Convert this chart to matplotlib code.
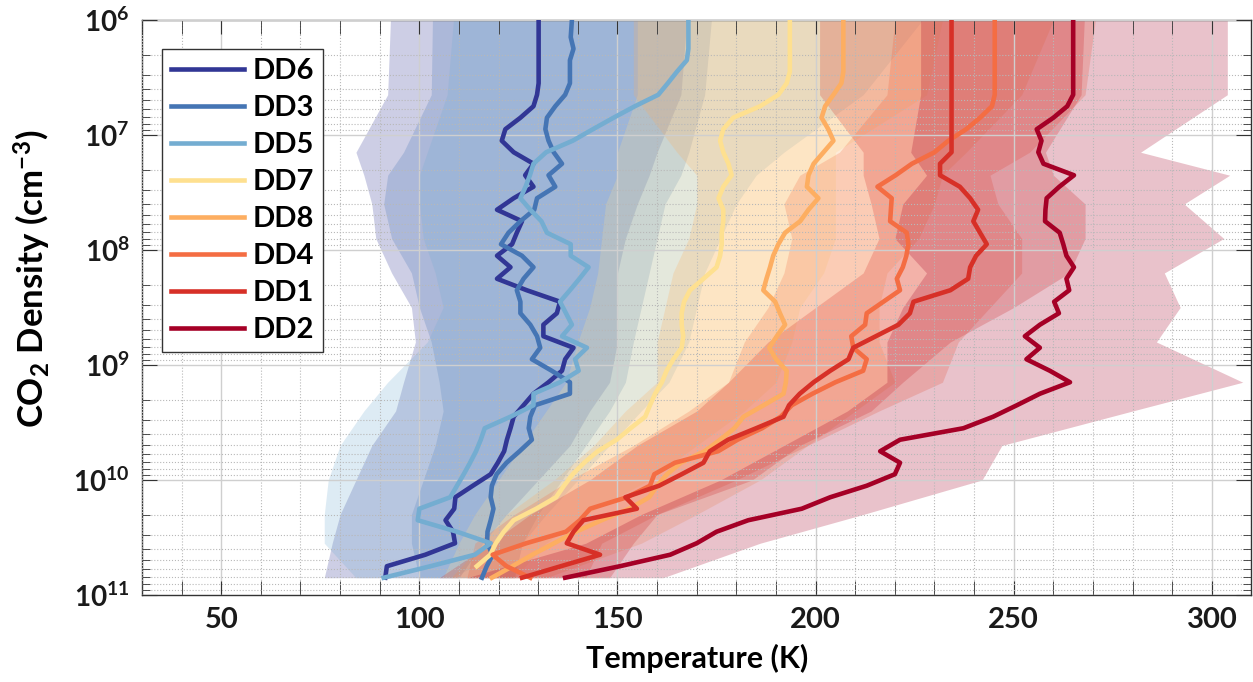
import numpy as np
import matplotlib
matplotlib.use('Agg')
import matplotlib.pyplot as plt
from matplotlib.ticker import MultipleLocator, LogLocator, NullFormatter, FuncFormatter

plt.rcParams['font.family'] = ['Lato', 'DejaVu Sans']
plt.rcParams['font.weight'] = 'bold'
plt.rcParams['mathtext.fontset'] = 'custom'
plt.rcParams['mathtext.rm'] = 'Lato:bold'
plt.rcParams['mathtext.bf'] = 'Lato:bold'
plt.rcParams['mathtext.it'] = 'Lato:bold:italic'
plt.rcParams['mathtext.default'] = 'bf'

# log10 of CO2 density (cm^-3) for the profile lines
log_n = [6.0, 6.15, 6.25, 6.35, 6.45, 6.55, 6.65, 6.75, 6.85, 6.95,
         7.05, 7.15, 7.25, 7.35, 7.45, 7.55, 7.65, 7.75, 7.85, 7.95,
         8.05, 8.15, 8.25, 8.35, 8.45, 8.55, 8.65, 8.75, 8.85, 8.95,
         9.05, 9.15, 9.25, 9.35, 9.45, 9.55, 9.65, 9.75, 9.85, 9.95,
         10.05, 10.15, 10.25, 10.35, 10.45, 10.55, 10.65, 10.75, 10.85]

# temperature profiles (K)
dd6 = [130.1, 130.1, 130.1, 130.1, 130.1, 130.1, 129.7, 128.8, 125.5, 121.7,
       120.8, 123.8, 128.8, 126.7, 128.8, 123.8, 119.6, 125.9, 124.6, 123.4,
       119.6, 123.0, 119.6, 127.1, 135.5, 134.7, 131.3, 131.3, 138.9, 136.8,
       136.0, 132.6, 128.8, 126.3, 123.8, 123.0, 122.1, 121.4, 119.8, 118.0,
       113.5, 109.1, 108.8, 106.6, 108.5, 109.0, 101.5, 91.8, 91.4]
dd3 = [138.5, 138.2, 138.9, 138.0, 138.0, 138.0, 136.8, 134.3, 132.2, 131.8,
       132.6, 133.9, 136.0, 132.6, 134.3, 129.7, 129.0, 125.5, 122.5, 120.6,
       125.9, 128.8, 126.3, 124.6, 125.5, 125.5, 128.0, 129.7, 130.5, 128.4,
       133.4, 138.0, 138.0, 129.2, 128.0, 127.6, 128.4, 125.3, 122.0, 119.5,
       118.3, 118.0, 118.7, 118.0, 117.2, 117.1, 118.5, 117.0, 115.8]
dd5 = [167.9, 167.9, 167.9, 167.5, 165.0, 162.7, 160.3, 154.4, 149.0, 143.8,
       138.7, 132.0, 128.8, 127.9, 126.8, 125.5, 128.0, 130.8, 132.2, 138.2,
       138.2, 142.7, 140.4, 138.0, 135.5, 137.0, 138.5, 136.0, 142.3, 139.3,
       140.2, 135.5, 128.8, 128.8, 123.0, 116.5, 115.5, 114.3, 112.8, 111.2,
       109.5, 107.8, 100.0, 99.6, 109.5, 118.0, 114.0, 102.8, 91.0]
dd7 = [193.5, 193.5, 193.5, 193.5, 193.5, 192.7, 190.6, 186.0, 179.2, 176.7,
       175.9, 176.7, 178.0, 178.8, 176.7, 175.5, 176.7, 176.7, 176.3, 176.3,
       175.9, 175.0, 171.7, 168.3, 166.8, 166.2, 166.2, 166.6, 166.2, 164.1,
       162.4, 161.2, 159.5, 158.2, 157.0, 153.3, 149.8, 145.0, 141.6, 138.7,
       136.5, 134.5, 129.5, 123.8, 121.3, 119.3, 117.9, 114.5, np.nan]
dd8 = [207.0, 207.0, 207.0, 207.0, 207.0, 206.5, 204.5, 202.4, 201.5, 203.2,
       204.5, 202.0, 199.5, 198.2, 197.8, 200.7, 198.2, 196.1, 192.3, 190.6,
       189.3, 188.5, 187.6, 186.8, 189.8, 191.0, 192.3, 190.2, 188.3, 190.0,
       192.7, 192.5, 191.9, 186.9, 181.8, 179.5, 175.9, 172.0, 166.0, 162.5,
       160.0, 158.0, 153.0, 146.0, 139.5, 134.0, 128.5, 123.5, 118.3]
dd4 = [245.2, 245.2, 245.2, 245.2, 245.2, 245.2, 245.2, 244.5, 241.5, 238.0,
       233.5, 230.0, 224.3, 220.2, 215.6, 219.2, 219.0, 218.8, 223.0, 223.4,
       222.9, 222.0, 220.5, 221.3, 217.1, 212.9, 212.5, 209.0, 209.5, 212.9,
       212.0, 205.0, 199.2, 194.0, 191.2, 186.5, 180.3, 175.4, 164.5, 159.3,
       158.2, 152.4, 143.1, 140.5, 137.0, 127.0, 118.5, 122.0, 128.0]
dd1 = [234.3, 234.3, 234.3, 234.3, 234.3, 234.3, 234.3, 234.3, 234.3, 234.3,
       234.3, 234.3, 231.4, 231.4, 236.4, 239.0, 241.0, 239.8, 241.5, 243.2,
       240.5, 239.0, 238.5, 234.0, 224.7, 223.8, 220.9, 215.2, 209.5, 208.3,
       203.7, 199.5, 196.0, 193.3, 191.9, 185.0, 177.9, 173.3, 171.7, 166.2,
       160.5, 152.0, 154.9, 141.4, 138.9, 137.2, 145.6, 135.7, 125.9]
dd2 = [265.0, 265.0, 265.0, 265.0, 265.0, 265.0, 265.0, 263.5, 260.0, 255.8,
       257.0, 256.2, 257.5, 265.2, 261.5, 258.3, 258.0, 257.9, 261.6, 262.5,
       263.3, 265.2, 263.3, 264.0, 260.2, 261.4, 256.6, 252.8, 256.6, 253.2,
       259.1, 264.2, 256.6, 250.8, 244.8, 237.3, 221.3, 216.3, 221.3, 220.0,
       212.9, 203.7, 196.5, 183.0, 175.0, 170.0, 163.3, 150.6, 136.8]

# spread envelopes, on a coarser density grid
band_n = [6.0, 6.65, 7.15, 7.35, 7.6, 7.9, 8.2, 8.5, 8.8, 9.15,
          9.4, 9.7, 10.0, 10.3, 10.55, 10.85]
dd6_lo = [92.7, 92.0, 84.0, 86.0, 88.0, 89.0, 93.0, 98.0, 99.0, 96.0, 94.0, 88.0, 84.0, 80.0, 78.0, 76.0]
dd6_hi = [167.5, 166.0, 160.0, 158.0, 155.0, 152.0, 150.0, 150.0, 150.0, 148.0, 143.0, 138.0, 130.0, 122.0, 116.0, 110.0]
dd3_lo = [103.3, 103.0, 96.0, 92.0, 91.0, 93.0, 98.0, 100.0, 103.0, 105.0, 106.0, 104.0, 101.0, 98.0, 98.0, 100.0]
dd3_hi = [173.7, 172.0, 168.0, 166.0, 162.0, 160.0, 158.0, 156.0, 154.0, 152.0, 148.0, 142.0, 136.0, 130.0, 126.0, 124.0]
dd5_lo = [108.6, 107.0, 102.0, 100.0, 100.0, 101.0, 104.0, 106.0, 102.0, 92.0, 86.0, 80.0, 77.0, 76.0, 76.0, 84.0]
dd5_hi = [227.0, 212.0, 192.0, 185.0, 180.0, 176.0, 172.0, 170.0, 168.0, 163.0, 156.0, 148.0, 140.0, 132.0, 126.0, 108.0]
dd7_lo = [155.0, 155.0, 150.0, 150.0, 147.0, 146.0, 145.0, 143.0, 140.0, 137.0, 132.0, 126.0, 120.0, 114.0, 110.0, 106.0]
dd7_hi = [232.0, 228.0, 205.0, 205.0, 205.0, 205.0, 202.0, 196.0, 194.0, 190.0, 182.0, 170.0, 158.0, 142.0, 132.0, 124.0]
dd8_lo = [154.0, 154.0, 165.0, 170.0, 170.0, 168.0, 164.0, 162.0, 160.0, 160.0, 152.0, 144.0, 134.0, 122.0, 116.0, 108.0]
dd8_hi = [260.0, 252.0, 238.0, 232.0, 230.0, 226.0, 218.0, 216.0, 216.0, 220.0, 210.0, 198.0, 186.0, 170.0, 156.0, 132.0]
dd4_lo = [220.0, 218.0, 206.0, 196.0, 192.0, 194.0, 192.0, 188.0, 182.0, 178.0, 168.0, 154.0, 138.0, 124.0, 114.0, 112.0]
dd4_hi = [270.6, 268.0, 254.0, 244.0, 246.0, 252.0, 252.0, 244.0, 236.0, 232.0, 216.0, 198.0, 180.0, 160.0, 146.0, 142.0]
dd1_lo = [201.0, 201.0, 212.0, 212.0, 214.0, 216.0, 212.0, 200.0, 188.0, 178.0, 170.0, 155.0, 143.0, 128.0, 118.0, 105.0]
dd1_hi = [267.8, 267.0, 258.0, 260.0, 268.0, 268.0, 264.0, 250.0, 234.0, 222.0, 214.0, 196.0, 184.0, 160.0, 154.0, 148.0]
dd2_lo = [226.5, 226.5, 224.0, 228.0, 222.0, 220.0, 228.0, 222.0, 218.0, 218.0, 208.0, 192.0, 176.0, 156.0, 142.0, 112.0]
dd2_hi = [303.9, 303.9, 282.0, 304.5, 293.0, 303.0, 288.0, 292.0, 286.0, 307.8, 280.0, 247.0, 242.0, 212.0, 186.0, 161.5]

names = ['DD6', 'DD3', 'DD5', 'DD7', 'DD8', 'DD4', 'DD1', 'DD2']
colors = ['#313695', '#4575b4', '#74add1', '#fee090',
          '#fdae61', '#f46d43', '#d73027', '#a50026']
profiles = [dd6, dd3, dd5, dd7, dd8, dd4, dd1, dd2]
lows = [dd6_lo, dd3_lo, dd5_lo, dd7_lo, dd8_lo, dd4_lo, dd1_lo, dd2_lo]
highs = [dd6_hi, dd3_hi, dd5_hi, dd7_hi, dd8_hi, dd4_hi, dd1_hi, dd2_hi]

dens = 10 ** np.array(log_n)
band_dens = 10 ** np.array(band_n)

fig = plt.figure(figsize=(12.53, 6.82), dpi=100)
ax = fig.add_axes([0.1133, 0.1276, 0.8855, 0.8431])

for lo, hi, c in zip(lows, highs, colors):
    ax.fill_betweenx(band_dens, lo, hi, color=c, alpha=0.24, lw=0, zorder=1)

for t, c, name in zip(profiles, colors, names):
    ax.plot(t, dens, color=c, lw=3.3, label=name, zorder=3)

ax.set_yscale('log')
ax.set_ylim(1e11, 1e6)
ax.set_xlim(30, 310)

ax.xaxis.set_major_locator(MultipleLocator(50))
ax.xaxis.set_minor_locator(MultipleLocator(10))
ax.yaxis.set_major_locator(LogLocator(base=10, numticks=12))
ax.yaxis.set_minor_locator(LogLocator(base=10, subs=np.arange(2, 10), numticks=12))
ax.yaxis.set_minor_formatter(NullFormatter())
ax.yaxis.set_major_formatter(FuncFormatter(lambda v, p: r'$\mathbf{10^{%d}}$' % round(np.log10(v))))

ax.tick_params(which='both', direction='in', top=True, right=True,
               colors='#333333', labelcolor='#1a1a1a', labelsize=20)
ax.tick_params(axis='x', which='both', length=10, pad=9, labelsize=21)
ax.tick_params(axis='y', which='major', length=11, pad=9)
ax.tick_params(axis='y', which='minor', length=6)

ax.grid(which='major', color='#cfcfcf', lw=1.0, ls='-', zorder=2)
ax.grid(which='minor', color='#b8b8b8', lw=0.8, ls=':', zorder=2)
ax.set_axisbelow(False)

for s in ax.spines.values():
    s.set_color('#333333')
    s.set_linewidth(1.0)

ax.set_xlabel('Temperature (K)', fontsize=22, fontweight='bold')
ax.xaxis.set_label_coords(0.5, -0.085)
ax.set_ylabel('CO$_2$ Density (cm$^{-3}$)', fontsize=25, fontweight='bold')
ax.yaxis.set_label_coords(-0.08, 0.55)

leg = ax.legend(loc='upper left', bbox_to_anchor=(0.018, 0.9496), borderaxespad=0,
                fontsize=21, handlelength=2.5, labelspacing=0.38, borderpad=0.3,
                handletextpad=0.3, fancybox=False, edgecolor='#333333',
                framealpha=1.0)
leg.get_frame().set_linewidth(1.0)
leg.set_zorder(5)

fig.savefig('out.png', dpi=100)
